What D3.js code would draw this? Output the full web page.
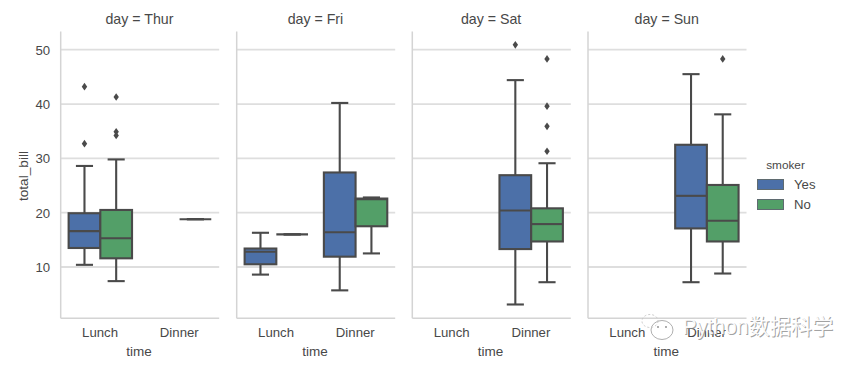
<!DOCTYPE html>
<html><head><meta charset="utf-8">
<script src="https://cdn.jsdelivr.net/npm/d3@7"></script>
<style>html,body{margin:0;padding:0;background:#fff}svg{display:block}text{font-family:"Liberation Sans",Arial,sans-serif}</style>
</head><body><svg id="c" width="863" height="365"></svg>
<script>
const days = ["Thur","Fri","Sat","Sun"];
const times = ["Lunch","Dinner"];
const smokers = ["Yes","No"];
const smokerColors = ["#4c70a8","#539f68"];
const yTicks = [10,20,30,40,50];
// each row: [day, time, smoker, whiskerLow, q1, median, q3, whiskerHigh]
const boxes = [
 ["Thur","Lunch","Yes",10.4,13.5,16.6,19.9,28.6],
 ["Thur","Lunch","No",7.4,11.6,15.3,20.5,29.8],
 ["Thur","Dinner","No",18.8,18.8,18.8,18.8,18.8],
 ["Fri","Lunch","Yes",8.6,10.5,12.8,13.4,16.3],
 ["Fri","Lunch","No",16.0,16.0,16.0,16.0,16.0],
 ["Fri","Dinner","Yes",5.7,11.9,16.4,27.4,40.2],
 ["Fri","Dinner","No",12.5,17.5,22.5,22.6,22.8],
 ["Sat","Dinner","Yes",3.1,13.3,20.4,26.9,44.4],
 ["Sat","Dinner","No",7.2,14.7,17.9,20.8,29.1],
 ["Sun","Dinner","Yes",7.2,17.1,23.1,32.5,45.5],
 ["Sun","Dinner","No",8.8,14.7,18.5,25.1,38.1]
];
// [day, time, smoker, value]
const outliers = [
 ["Thur","Lunch","Yes",43.2],["Thur","Lunch","Yes",32.7],
 ["Thur","Lunch","No",41.3],["Thur","Lunch","No",34.9],["Thur","Lunch","No",34.2],
 ["Sat","Dinner","Yes",50.9],
 ["Sat","Dinner","No",48.3],["Sat","Dinner","No",39.6],["Sat","Dinner","No",35.9],["Sat","Dinner","No",31.3],
 ["Sun","Dinner","No",48.3]
];
const panelLeft = [60.7,236.7,412.3,588];
const panelW = 158.5, plotTop = 31.5, plotBottom = 318.3;
const gridCol = "#dedede", axisCol = "#d4d4d4", ink = "#4a4a4a", textCol = "#484848";

const svg = d3.select("#c");
const y = d3.scaleLinear().domain([10,50]).range([267,49.7]);
const band = d3.scaleBand().domain(times).range([0,panelW]);
const hue = d3.scaleBand().domain(smokers).range([band.bandwidth()*0.1,band.bandwidth()*0.9]);
const color = d3.scaleOrdinal().domain(smokers).range(smokerColors);
const panelX = d3.scaleOrdinal().domain(days).range(panelLeft);

days.forEach((day,i)=>{
  const g = svg.append("g").attr("transform",`translate(${panelX(day)},0)`);
  g.selectAll("line.grid").data(yTicks).join("line").attr("class","grid")
    .attr("x1",0).attr("x2",panelW).attr("y1",d=>y(d)).attr("y2",d=>y(d))
    .attr("stroke",gridCol).attr("stroke-width",1.8);
  g.append("line").attr("x1",0).attr("x2",0).attr("y1",plotTop).attr("y2",plotBottom).attr("stroke",axisCol).attr("stroke-width",1.5);
  g.append("line").attr("x1",0).attr("x2",panelW).attr("y1",plotBottom).attr("y2",plotBottom).attr("stroke",axisCol).attr("stroke-width",1.5);
  g.append("text").attr("x",panelW/2-0.5).attr("y",24).attr("text-anchor","middle")
    .attr("font-size",14.2).attr("fill",textCol).text("day = "+day);
  g.selectAll("text.tick").data(times).join("text").attr("class","tick")
    .attr("x",d=>band(d)+band.bandwidth()/2-0.3).attr("y",337).attr("text-anchor","middle")
    .attr("font-size",13.2).attr("fill",textCol).text(d=>d);
  g.append("text").attr("x",panelW/2-1).attr("y",356).attr("text-anchor","middle")
    .attr("font-size",13.5).attr("fill",textCol).text("time");
  if(i===0){
    g.selectAll("text.ytick").data(yTicks).join("text").attr("class","ytick")
      .attr("x",-10.5).attr("y",d=>y(d)+5).attr("text-anchor","end")
      .attr("font-size",13.2).attr("fill",textCol).text(d=>d);
  }
  const rows = boxes.filter(b=>b[0]===day);
  rows.forEach(([,t,s,lo,q1,med,q3,hi])=>{
    const x0 = band(t)+hue(s), w = hue.bandwidth(), cx = x0+w/2, cap = w*0.27;
    const lw = 2.1;
    g.append("line").attr("x1",cx).attr("x2",cx).attr("y1",y(hi)).attr("y2",y(q3)).attr("stroke",ink).attr("stroke-width",lw);
    g.append("line").attr("x1",cx).attr("x2",cx).attr("y1",y(q1)).attr("y2",y(lo)).attr("stroke",ink).attr("stroke-width",lw);
    [lo,hi].forEach(v=>g.append("line").attr("x1",cx-cap).attr("x2",cx+cap).attr("y1",y(v)).attr("y2",y(v)).attr("stroke",ink).attr("stroke-width",lw));
    g.append("rect").attr("x",x0).attr("y",y(q3)).attr("width",w).attr("height",y(q1)-y(q3))
      .attr("fill",color(s)).attr("stroke",ink).attr("stroke-width",lw);
    g.append("line").attr("x1",x0).attr("x2",x0+w).attr("y1",y(med)).attr("y2",y(med)).attr("stroke",ink).attr("stroke-width",lw);
  });
  const diamond = d3.symbol().type(d3.symbolDiamond).size(20);
  g.selectAll("path.out").data(outliers.filter(o=>o[0]===day)).join("path").attr("class","out")
    .attr("d",diamond)
    .attr("transform",d=>`translate(${band(d[1])+hue(d[2])+hue.bandwidth()/2},${y(d[3])}) scale(1.12,0.92)`)
    .attr("fill",ink);
});

svg.append("text").attr("transform","translate(27.5,176) rotate(-90)").attr("text-anchor","middle")
  .attr("font-size",13.7).attr("fill",textCol).text("total_bill");

// legend
const leg = svg.append("g");
leg.append("text").attr("x",785.5).attr("y",169).attr("text-anchor","middle").attr("font-size",11.8).attr("fill",textCol).text("smoker");
smokers.forEach((s,i)=>{
  const ly = 179.5+i*20;
  leg.append("rect").attr("x",757.5).attr("y",ly).attr("width",26).attr("height",10)
    .attr("fill",color(s)).attr("stroke","#5f6b70").attr("stroke-width",1);
  leg.append("text").attr("x",794).attr("y",ly+9).attr("font-size",13.2).attr("fill",textCol).text(s);
});

// watermark
const wm = svg.append("g");
const wmText = "Python数据科学";
[[1,1,"#8a8a8a",0.8],[0,0,"#ffffff",0.95]].forEach(([dx,dy,c,o])=>{
  wm.append("text").attr("x",682.5+dx).attr("y",333.5+dy).attr("font-size",21.2)
    .style("font-family","'Liberation Sans','Noto Sans CJK SC',sans-serif")
    .attr("fill",c).attr("fill-opacity",o).text(wmText);
});
wm.append("ellipse").attr("cx",662).attr("cy",330).attr("rx",11).attr("ry",9.5).attr("fill","#fff").attr("fill-opacity",0.9).attr("stroke","#9a9a9a").attr("stroke-width",0.8);
wm.append("ellipse").attr("cx",650).attr("cy",321).attr("rx",8).attr("ry",6.5).attr("fill","none").attr("stroke","#c4c4c4").attr("stroke-width",0.9).attr("stroke-dasharray","2 2");
wm.append("circle").attr("cx",658).attr("cy",327).attr("r",0.9).attr("fill","#888");
wm.append("circle").attr("cx",666).attr("cy",327).attr("r",0.9).attr("fill","#888");
</script></body></html>
